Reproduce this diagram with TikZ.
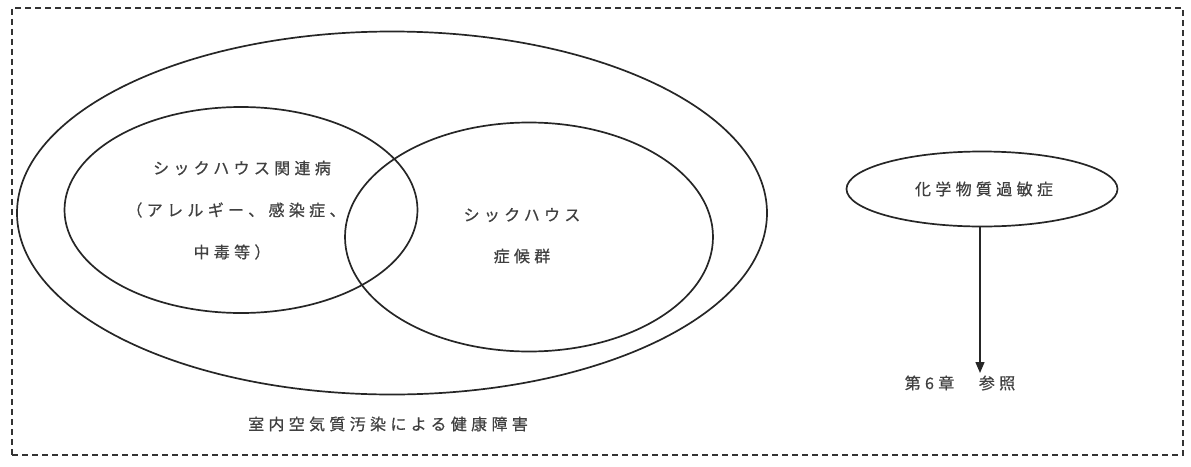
\documentclass[tikz,border=0pt]{standalone}
\usepackage{fontspec}
\usetikzlibrary{shapes.geometric,arrows.meta}
\newfontfamily\cjk[LetterSpace=27,FakeBold=0.6]{Noto Sans CJK JP}
\begin{document}
\begin{tikzpicture}[x=1pt,y=-1pt,
  ell/.style={draw=black!85,line width=1.7pt,ellipse,inner sep=0pt},
  lbl/.style={font=\cjk\fontsize{16}{19}\selectfont,text=black!75,inner sep=0pt,anchor=center}]
\useasboundingbox (0,0) rectangle (1191,466);
\node[draw=black!80,line width=1.4pt,dash pattern=on 6pt off 4pt,minimum width=1171pt,minimum height=447pt,inner sep=0pt] (frame) at (597.5,231.5) {};
\node[ell,minimum width=750pt,minimum height=363pt] (outer) at (392,213) {};
\node[ell,minimum width=353pt,minimum height=206pt] (rel) at (241,210) {};
\node[ell,minimum width=368pt,minimum height=229pt] (syn) at (529,237) {};
\node[ell,minimum width=271pt,minimum height=75pt] (chem) at (982,189) {};
\node[lbl] (t1) at (242,168) {シックハウス関連病};
\node[lbl] (t2) at (236,210) {（アレルギー、感染症、};
\node[lbl] (t3) at (232,252) {中毒等）};
\node[lbl] (t4) at (522,215) {シックハウス};
\node[lbl] (t5) at (522,256) {症候群};
\node[lbl] (t6) at (388,424) {室内空気質汚染による健康障害};
\node[lbl] (t7) at (984,189) {化学物質過敏症};
\node[lbl] (ref) at (960,383) {第6章　参照};
\coordinate (tip) at (980,373);
\draw[black!85,line width=1.4pt,-{Triangle[length=11pt,width=9pt]}] (chem.south -| tip) -- (tip);
\end{tikzpicture}
\end{document}
